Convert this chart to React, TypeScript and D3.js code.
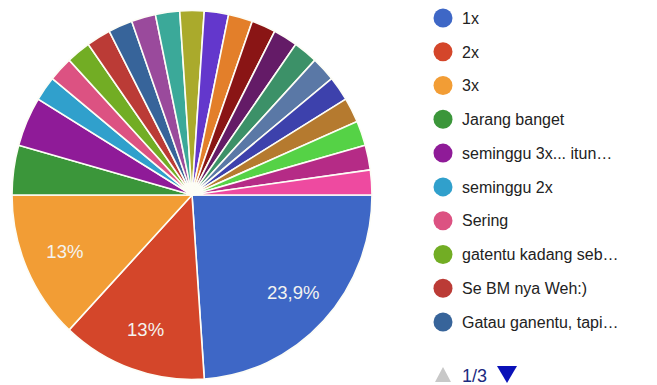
import React from "react";
import * as d3 from "d3";

const categories = [
  "1x", "2x", "3x", "Jarang banget", "seminggu 3x... itun…", "seminggu 2x", "Sering",
  "gatentu kadang seb…", "Se BM nya Weh:)", "Gatau ganentu, tapi…",
  "Jawaban 11", "Jawaban 12", "Jawaban 13", "Jawaban 14", "Jawaban 15", "Jawaban 16",
  "Jawaban 17", "Jawaban 18", "Jawaban 19", "Jawaban 20", "Jawaban 21", "Jawaban 22",
  "Jawaban 23", "Jawaban 24",
];
const values = [11, 6, 6, 2, 2, 1, 1, 1, 1, 1, 1, 1, 1, 1, 1, 1, 1, 1, 1, 1, 1, 1, 1, 1];
const sliceLabels = ["23,9%", "13%", "13%"];
const legendCount = 10;
const pageText = "1/3";
const colors = [
  "#3e67c6", "#d4462a", "#f29d35", "#3b963a", "#8f1b98", "#30a0cc", "#dc5282", "#72ad24",
  "#bb3b36", "#37649a", "#9a4a9c", "#3ba999", "#aaaa2c", "#6337cc", "#e37f2a", "#8a1515",
  "#641b67", "#3c9168", "#5a78a6", "#3d41ac", "#b57a2f", "#55d246", "#b52b86", "#ee4aa0",
];

export default function App() {
  const W = 657, H = 385;
  const cx = 192, cy = 195, r = 180, sy = 1.025;
  const pie = d3.pie<number>().sort(null).value((d) => d)
    .startAngle(Math.PI / 2).endAngle(Math.PI / 2 + 2 * Math.PI);
  const arcs = pie(values);
  const arc = d3.arc<d3.PieArcDatum<number>>().innerRadius(0).outerRadius(r);
  const labelArc = d3.arc<d3.PieArcDatum<number>>().innerRadius(r * 0.77).outerRadius(r * 0.77);
  const legendY = d3.scaleLinear().domain([0, legendCount - 1]).range([18, 322]);
  const font = "'Liberation Sans', Arial, sans-serif";
  return (
    <svg width={W} height={H} style={{ position: "absolute", left: 0, top: 0, background: "#fff" }}>
      <g transform={`translate(${cx},${cy}) scale(1,${sy})`}>
        {arcs.map((a, i) => (
          <path key={i} d={arc(a) || ""} fill={colors[i]} stroke="#fdfdf6" strokeWidth={1.6} />
        ))}
      </g>
      <g transform={`translate(${cx},${cy})`}>
        {arcs.slice(0, sliceLabels.length).map((a, i) => {
          const [x, y] = labelArc.centroid(a);
          return (
            <text key={i} x={x} y={y * sy} dy="0.36em" textAnchor="middle" fill="#f4f4f0"
              fontFamily={font} fontSize={18.5}>
              {sliceLabels[i]}
            </text>
          );
        })}
      </g>
      <g>
        {categories.slice(0, legendCount).map((c, i) => (
          <g key={c} transform={`translate(443,${legendY(i)})`}>
            <circle r={9.5} fill={colors[i]} />
            <text x={19} dy="0.36em" fontFamily={font} fontSize={16} fill="#222">{c}</text>
          </g>
        ))}
      </g>
      <g>
        <path d="M435,382 L451,382 L443,367 Z" fill="#c8c8c8" />
        <text x={462} y={382} fontFamily={font} fontSize={18} fill="#1c2a80">{pageText}</text>
        <path d="M497,366 L517,366 L507,383 Z" fill="#0a11b8" />
      </g>
    </svg>
  );
}
